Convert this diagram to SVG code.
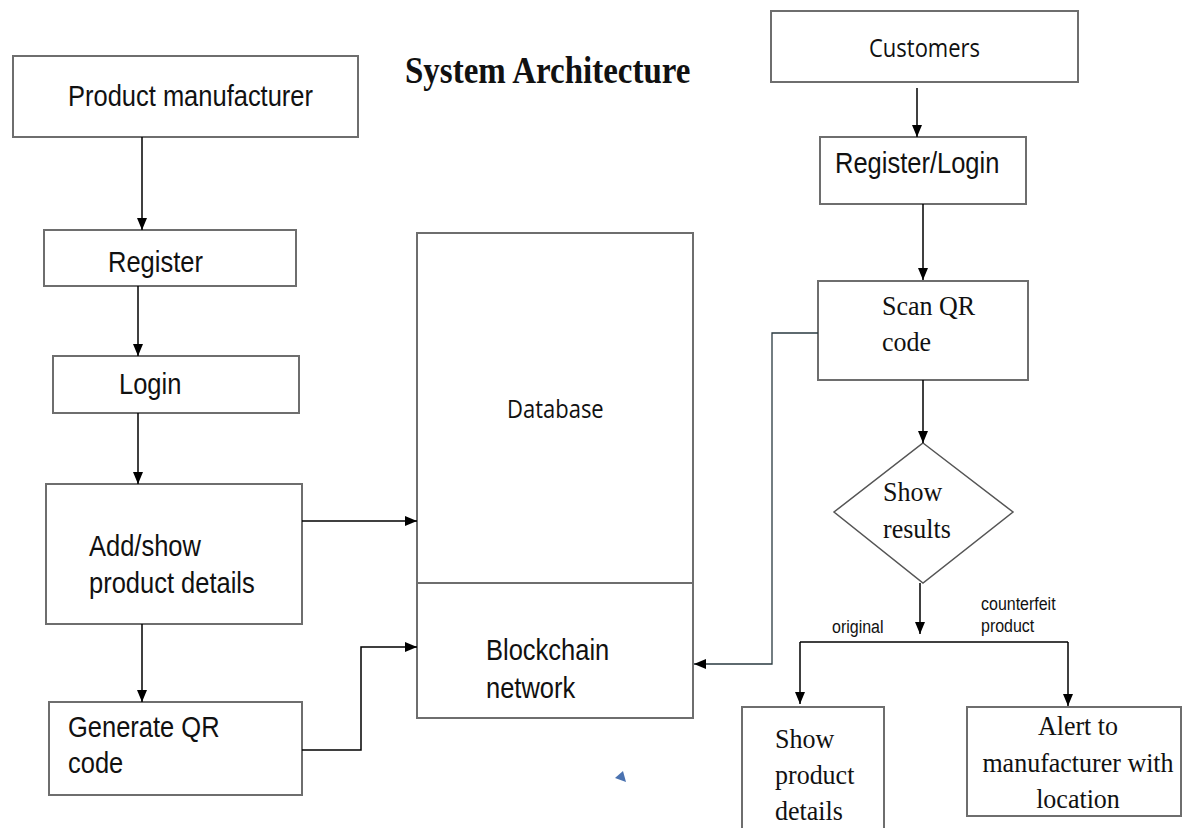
<svg xmlns="http://www.w3.org/2000/svg" width="1183" height="828" viewBox="0 0 1183 828">
<defs>
<marker id="ah" viewBox="0 0 12 10" refX="12" refY="5" markerWidth="12" markerHeight="10" orient="auto" markerUnits="userSpaceOnUse">
<path d="M0,0 L12,5 L0,10 z" fill="#000"/>
</marker>
<style>
.box{fill:#fff;stroke:#6e6e6e;stroke-width:2}
.ar{font-family:"Liberation Sans",Arial,sans-serif;font-size:25.5px;fill:#111}
.tm{font-family:"Liberation Serif","Times New Roman",serif;font-size:26px;fill:#111}
.cb{font-family:"Open Sans","Noto Sans",sans-serif;font-size:22px;fill:#111}
.sm{font-family:"Liberation Sans",Arial,sans-serif;font-size:16px;fill:#111}
.ln{fill:none;stroke:#000;stroke-width:1.5}
.ln2{fill:none;stroke:#2a3a40;stroke-width:1.3}
</style>
</defs>
<rect width="1183" height="828" fill="#fff"/>
<text transform="translate(405,83) scale(1,1.12)" font-family="'Liberation Serif','Times New Roman',serif" font-size="33" font-weight="bold" fill="#111">System Architecture</text>

<g id="manufacturer"><rect class="box" x="13" y="56" width="345" height="81"/><text class="ar" transform="translate(68,106) scale(1,1.13)">Product manufacturer</text></g>
<g id="register"><rect class="box" x="44" y="230" width="252" height="56"/><text class="ar" transform="translate(108,272) scale(1,1.13)">Register</text></g>
<g id="login"><rect class="box" x="53" y="356" width="246" height="57"/><text class="ar" transform="translate(119,394) scale(1,1.13)">Login</text></g>
<g id="addshow"><rect class="box" x="46" y="484" width="256" height="140"/><text class="ar" transform="translate(89,556) scale(1,1.13)">Add/show</text><text class="ar" transform="translate(89,593) scale(1,1.13)">product details</text></g>
<g id="generateqr"><rect class="box" x="49" y="702" width="253" height="93"/><text class="ar" transform="translate(68,737) scale(1,1.13)">Generate QR</text><text class="ar" transform="translate(68,773) scale(1,1.13)">code</text></g>
<g id="database"><rect class="box" x="417" y="233" width="276" height="350"/><text class="cb" transform="translate(507,418) scale(1,1.15)">Database</text></g>
<g id="blockchain"><rect class="box" x="417" y="583" width="276" height="135"/><text class="ar" transform="translate(486,660) scale(1,1.13)">Blockchain</text><text class="ar" transform="translate(486,698) scale(1,1.13)">network</text></g>
<g id="customers"><rect class="box" x="771" y="11" width="307" height="71"/><text class="cb" transform="translate(869,57) scale(1,1.15)">Customers</text></g>
<g id="registerlogin"><rect class="box" x="820" y="137" width="206" height="67"/><text class="ar" transform="translate(835,173) scale(1,1.13)">Register/Login</text></g>
<g id="scanqr"><rect class="box" x="818" y="281" width="210" height="99"/><text class="tm" transform="translate(882,315) scale(1,1.07)">Scan QR</text><text class="tm" transform="translate(882,351) scale(1,1.07)">code</text></g>
<g id="showresults"><polygon points="923,443 1013,512 923,583 834,512" fill="#fff" stroke="#555" stroke-width="1.5"/><text class="tm" transform="translate(883,501) scale(1,1.07)">Show</text><text class="tm" transform="translate(883,538) scale(1,1.07)">results</text></g>
<g id="showdetails"><rect class="box" x="742" y="707" width="142" height="130"/><text class="tm" transform="translate(775,748) scale(1,1.07)">Show</text><text class="tm" transform="translate(775,784) scale(1,1.07)">product</text><text class="tm" transform="translate(775,820) scale(1,1.07)">details</text></g>
<g id="alert"><rect class="box" x="967" y="707" width="214" height="109"/><text class="tm" text-anchor="middle" transform="translate(1078,735) scale(1,1.05)">Alert to</text><text class="tm" text-anchor="middle" transform="translate(1078,772) scale(1,1.05)">manufacturer with</text><text class="tm" text-anchor="middle" transform="translate(1078,808) scale(1,1.05)">location</text></g>

<g id="connectors">
<path class="ln" d="M142,137 V230" marker-end="url(#ah)"/>
<path class="ln" d="M138,286 V356" marker-end="url(#ah)"/>
<path class="ln" d="M138,413 V484" marker-end="url(#ah)"/>
<path class="ln" d="M142,624 V702" marker-end="url(#ah)"/>
<path class="ln" d="M302,521 H417" marker-end="url(#ah)"/>
<path class="ln" d="M302,750 H361 V647 H417" marker-end="url(#ah)"/>
<path class="ln" d="M917,88 V137" marker-end="url(#ah)"/>
<path class="ln" d="M923,204 V280" marker-end="url(#ah)"/>
<path class="ln" d="M923,380 V443" marker-end="url(#ah)"/>
<path class="ln2" d="M818,333 H772 V664 H694" marker-end="url(#ah)"/>
<path class="ln" d="M920,583 V634" marker-end="url(#ah)"/>
<path class="ln" d="M800,642 H1068"/>
<path class="ln" d="M800,642 V704" marker-end="url(#ah)"/>
<path class="ln" d="M1068,642 V706" marker-end="url(#ah)"/>
<text class="sm" transform="translate(832,633) scale(1,1.1)">original</text>
<text class="sm" transform="translate(981,610) scale(1,1.1)">counterfeit</text>
<text class="sm" transform="translate(981,632) scale(1,1.1)">product</text>
</g>
<polygon points="615,778 623,771 626,782" fill="#4a72b0"/>
</svg>
